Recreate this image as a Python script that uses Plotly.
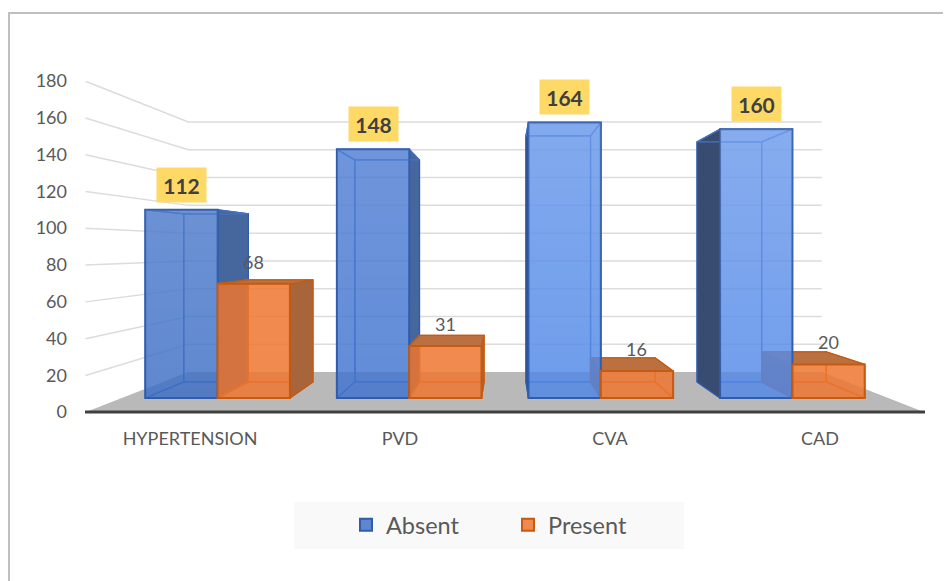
import plotly.graph_objects as go

CATEGORIES = ["HYPERTENSION", "PVD", "CVA", "CAD"]
ABSENT = [112, 148, 164, 160]
PRESENT = [68, 31, 16, 20]
Y_TICKS = [0, 20, 40, 60, 80, 100, 120, 140, 160, 180]

FONT = "Lato, Carlito, sans-serif"
BLUE_FRONT = ["rgba(60,110,198,0.82)", "rgba(63,115,207,0.82)", "rgba(78,134,230,0.82)", "rgba(80,136,232,0.82)"]
BLUE_SHEEN = [0.08, 0.08, 0.14, 0.16]
ORANGE_FRONT = "rgba(237,118,47,0.85)"
BLUE_LINE = "#2f5cab"
ORANGE_LINE = "#c55a11"
BLUE_INNER = "#4672c2"
ORANGE_INNER = "#d4661c"

# Perspective model of the chart box: X in category units, v in value units, k is the depth scale
K_FLOOR_FRONT, K_BAR_FRONT, K_BAR_BACK, K_WALL = 1.0947, 1.0, 0.893, 0.8265
BAR_W = 0.3775


def project(X, v, k):
    px_y = 248 + (398 - 1.68 * v - 248) * k
    return 1.5 + (X - 1.5) * (191.6 / 210) * k, (412 - px_y) / 1.839


def poly(points, fill=None, line=None, width=1.3):
    xs, ys = zip(*[project(*p) for p in points + points[:1]])
    return go.Scatter(
        x=xs, y=ys, mode="lines", fill="toself" if fill else None,
        fillcolor=fill, line=dict(color=line or "rgba(0,0,0,0)", width=width),
        hoverinfo="skip", showlegend=False, xaxis="x", yaxis="y",
    )


fig = go.Figure()

# floor
fig.add_trace(poly([(-0.5, 0, K_FLOOR_FRONT), (3.5, 0, K_FLOOR_FRONT), (3.5, 0, K_WALL), (-0.5, 0, K_WALL)], fill="#b9b9b9"))

# wall gridlines
gx, gy = [], []
for t in Y_TICKS[1:]:
    for X, k in [(-0.5, K_FLOOR_FRONT), (-0.5, K_WALL), (3.5, K_WALL)]:
        a, b = project(X, t, k)
        gx.append(a)
        gy.append(b)
    gx.append(None)
    gy.append(None)
fig.add_trace(go.Scatter(x=gx, y=gy, mode="lines", line=dict(color="#dcdcdc", width=1.5),
                         hoverinfo="skip", showlegend=False))


def add_box(x0, x1, v, inner, outer, dark_side_l, dark_side_r, dark_top):
    kf, kb = K_BAR_FRONT, K_BAR_BACK
    fig.add_trace(poly([(x0, 0, kb), (x1, 0, kb), (x1, v, kb), (x0, v, kb)], line=inner))
    fig.add_trace(poly([(x0, 0, kf), (x1, 0, kf), (x1, 0, kb), (x0, 0, kb)], line=inner))
    left = [(x0, 0, kf), (x0, v, kf), (x0, v, kb), (x0, 0, kb)]
    right = [(x1, 0, kf), (x1, v, kf), (x1, v, kb), (x1, 0, kb)]
    top = [(x0, v, kf), (x1, v, kf), (x1, v, kb), (x0, v, kb)]
    lx, rx, tx = x0 > 1.5, x1 < 1.5, 398 - 1.68 * v > 248
    fig.add_trace(poly(left, fill=dark_side_l if lx else None, line=outer if lx else inner))
    fig.add_trace(poly(right, fill=dark_side_r if rx else None, line=outer if rx else inner))
    fig.add_trace(poly(top, fill=dark_top if tx else None, line=outer if tx else inner))


for i in range(len(CATEGORIES)):
    add_box(i - BAR_W, i, ABSENT[i], BLUE_INNER, BLUE_LINE, "rgb(56,76,114)", "rgb(70,103,158)", "rgb(70,110,180)")
for i in range(len(CATEGORIES)):
    add_box(i, i + BAR_W, PRESENT[i], ORANGE_INNER, ORANGE_LINE, "rgb(168,100,58)", "rgb(168,100,58)", "rgb(186,112,64)")

# front faces, real bars on the front-plane axes
fig.add_trace(go.Bar(name="Absent", x=CATEGORIES, y=ABSENT, xaxis="x2", yaxis="y2",
                     marker=dict(color=BLUE_FRONT, line=dict(color=BLUE_LINE, width=2))))
fig.add_trace(go.Bar(name="Present", x=CATEGORIES, y=PRESENT, xaxis="x2", yaxis="y2",
                     marker=dict(color=ORANGE_FRONT, line=dict(color=ORANGE_LINE, width=2))))

# vertical sheen over the blue front faces
for i in range(len(CATEGORIES)):
    pts = [(i - BAR_W, 0, 1), (i, 0, 1), (i, ABSENT[i], 1), (i - BAR_W, ABSENT[i], 1), (i - BAR_W, 0, 1)]
    xs, ys = zip(*[project(*p) for p in pts])
    fig.add_trace(go.Scatter(
        x=xs, y=ys, mode="lines", fill="toself", line=dict(width=0, color="rgba(0,0,0,0)"),
        fillgradient=dict(type="vertical", colorscale=[[0, "rgba(255,255,255,0)"], [1, f"rgba(255,255,255,{BLUE_SHEEN[i]})"]]),
        hoverinfo="skip", showlegend=False, xaxis="x3", yaxis="y3"))

annotations = []
for i in range(len(CATEGORIES)):
    annotations.append(dict(x=i - BAR_W / 2, y=ABSENT[i], xref="x2", yref="y2", yshift=25, showarrow=False,
                            text=f"<b>{ABSENT[i]}</b>", width=47, height=32, bgcolor="#ffd966",
                            font=dict(family=FONT, size=21, color="#404040")))
    annotations.append(dict(x=i + BAR_W / 2, y=PRESENT[i], xref="x2", yref="y2", yshift=22, showarrow=False,
                            text=str(PRESENT[i]), font=dict(family=FONT, size=18, color="#595959")))

# The page body has an 8px margin, so the figure starts 8px in from the window corner.
PAGE = 8
L, R, T, B = 85, 26, 81, 169
W, H = 951 - PAGE, 581 - PAGE
PW, PH = 840, 331


def paper_x(p):
    return (p - L) / PW


def paper_y(p):
    return 1 - (p - T) / PH


shapes = [
    dict(type="rect", xref="paper", yref="paper", x0=paper_x(9), x1=paper_x(1000), y0=paper_y(700), y1=paper_y(13),
         line=dict(color="#bfbfbf", width=2), fillcolor="rgba(0,0,0,0)", layer="below"),
    dict(type="rect", xref="paper", yref="paper", x0=paper_x(294), x1=paper_x(684), y0=paper_y(549), y1=paper_y(502),
         line=dict(width=0), fillcolor="#f9f9f9", layer="below"),
    dict(type="line", xref="paper", yref="paper", x0=0, x1=1, y0=0, y1=0,
         line=dict(color="#404040", width=3), layer="above"),
]

fig.update_layout(
    width=W, height=H, margin=dict(l=L - PAGE, r=R, t=T - PAGE, b=B, autoexpand=False),
    paper_bgcolor="white", plot_bgcolor="rgba(0,0,0,0)",
    barmode="group", bargap=0.245, bargroupgap=0,
    font=dict(family=FONT, color="#595959"),
    xaxis=dict(range=[-0.5, 3.5], tickvals=[0, 1, 2, 3], ticktext=CATEGORIES, showgrid=False, zeroline=False,
               showline=False, ticks="", ticklabelstandoff=14, tickfont=dict(family=FONT, size=18, color="#595959")),
    yaxis=dict(range=[0, 180], tickvals=Y_TICKS, showgrid=False, zeroline=False, showline=False, ticks="",
               ticklabelstandoff=17, tickfont=dict(family=FONT, size=18, color="#595959")),
    xaxis2=dict(type="category", overlaying="x", range=[-0.692, 3.692], visible=False, categoryorder="array",
                categoryarray=CATEGORIES),
    yaxis2=dict(overlaying="y", range=[(398 - 412) / 1.68, (398 - 81) / 1.68], visible=False),
    xaxis3=dict(overlaying="x", range=[-0.5, 3.5], visible=False),
    yaxis3=dict(overlaying="y", range=[0, 180], visible=False),
    legend=dict(orientation="h", x=paper_x(346), xanchor="left", y=paper_y(525), yanchor="middle",
                bgcolor="rgba(0,0,0,0)", font=dict(family=FONT, size=23.5, color="#595959"),
                entrywidth=117, entrywidthmode="pixels", itemclick=False, itemdoubleclick=False),
    shapes=shapes, annotations=annotations,
)

fig.write_html("out.html")
